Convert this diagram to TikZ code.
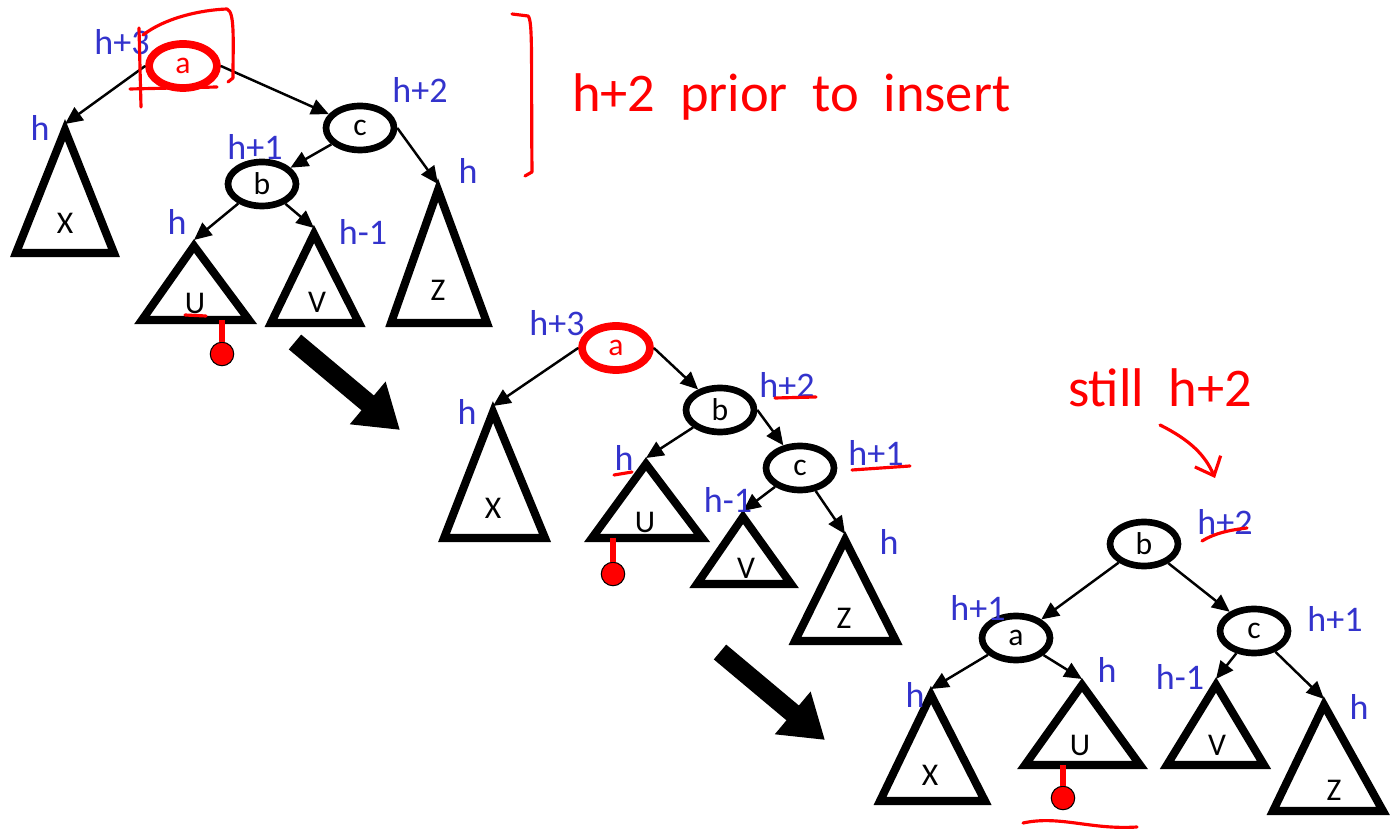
\documentclass[tikz,border=0pt]{standalone}
\usepackage{fontspec}
\setmainfont{Carlito}
\usetikzlibrary{arrows.meta,shapes.geometric}

\definecolor{hblue}{RGB}{51,51,204}

\begin{document}
\begin{tikzpicture}[x=0.02cm, y=-0.02cm,
    key/.style={ellipse, draw, line width=3.8pt, inner sep=0pt,
        minimum width=1.36cm, minimum height=0.88cm, font=\fontsize{18}{18}\selectfont},
    newkey/.style={key, draw=red, text=red, line width=4.4pt},
    tri/.style={line width=4.6pt, line join=miter},
    sub/.style={font=\fontsize{18}{18}\selectfont},
    ht/.style={text=hblue, font=\fontsize{20.5}{20.5}\selectfont},
    link/.style={-{Triangle[length=10pt,width=9pt]}, line width=1.4pt},
    bigarrow/.style={line width=11pt, -{Triangle[length=24pt,width=30pt]}},
    pen/.style={red, line width=1.8pt, line cap=round, line join=round},
    note/.style={text=red, font=\fontsize{31}{31}\selectfont},
    ball/.style={circle, draw, line width=0.6pt, fill=red, minimum size=0.47cm, inner sep=0pt}]

    \useasboundingbox (0,0) rectangle (1396,830);

    % before the rotation
    \node[newkey] (a1) at (183,66) {a};
    \node[key] (c1) at (360,128) {c};
    \node[key] (b1) at (262,184) {b};

    \draw[tri] (65,130) coordinate (X1) -- (16,253) -- (114,253) -- cycle;
    \draw[tri] (194,246) coordinate (U1) -- (142,320) -- (249,320) -- cycle;
    \draw[tri] (314,234) coordinate (V1) -- (271,323) -- (359,323) -- cycle;
    \draw[tri] (438,190) coordinate (Z1) -- (391,323) -- (487,323) -- cycle;
    \node[sub] (x1) at (65,223) {X};
    \node[sub] (u1) at (195,303) {U};
    \node[sub] (v1) at (317,302) {V};
    \node[sub] (z1) at (438,290) {Z};

    \draw[link] (a1.west) -- ([shift={(0,-6)}]X1);
    \draw[link] (a1.east) -- (c1);
    \draw[link] (c1) -- (b1);
    \draw[link] (c1.east) -- ([shift={(0,-6)}]Z1);
    \draw[link] (b1) -- ([shift={(0,-6)}]U1);
    \draw[link] (b1) -- ([shift={(0,-6)}]V1);

    \node[ht] (ha1) at (122,42) {h+3};
    \node[ht] (hx1) at (40,128) {h};
    \node[ht] (hc1) at (420,90) {h+2};
    \node[ht] (hb1) at (255,147) {h+1};
    \node[ht] (hz1) at (468,171) {h};
    \node[ht] (hu1) at (177,222) {h};
    \node[ht] (hv1) at (363,232) {h-1};

    \coordinate (s1) at (222,320);
    \node[ball] (o1) at (222,354) {};
    \draw[red, line width=3pt] (s1) -- (o1);

    % ink on the first tree
    \draw[pen] (139,28) -- (141,107);
    \draw[pen] (143,35) .. controls (165,18) and (200,10) .. (227,9)
        .. controls (235,12) and (233,40) .. (233,78) -- (228,82);
    \draw[pen] (130,89) -- (217,87);
    \draw[pen] (185,315) -- (206,316);
    \draw[pen] (512,14) -- (528,16) .. controls (533,20) and (531,60) .. (532,172) -- (525,176);
    \node[note, anchor=west] (n1) at (566,97) {h+2 \ prior \ to \ insert};

    \draw[bigarrow] (295,342) -- (400,430);

    % after inserting into U
    \node[newkey] (a2) at (616,348) {a};
    \node[key] (b2) at (720,410) {b};
    \node[key] (c2) at (800,468) {c};

    \draw[tri] (493,412) coordinate (X2) -- (444,538) -- (545,538) -- cycle;
    \draw[tri] (646,464) coordinate (U2) -- (592,538) -- (702,538) -- cycle;
    \draw[tri] (743,517) coordinate (V2) -- (697,584) -- (791,584) -- cycle;
    \draw[tri] (845,540) coordinate (Z2) -- (795,641) -- (896,641) -- cycle;
    \node[sub] (x2) at (493,508) {X};
    \node[sub] (u2) at (645,522) {U};
    \node[sub] (v2) at (746,568) {V};
    \node[sub] (z2) at (844,618) {Z};

    \draw[link] (a2.west) -- ([shift={(0,-6)}]X2);
    \draw[link] (a2.east) -- (b2);
    \draw[link] (b2) -- ([shift={(0,-6)}]U2);
    \draw[link] (b2.east) -- (c2);
    \draw[link] (c2) -- ([shift={(0,-6)}]V2);
    \draw[link] (c2) -- ([shift={(0,-6)}]Z2);

    \node[ht] (ha2) at (557,323) {h+3};
    \node[ht] (hx2) at (467,412) {h};
    \node[ht] (hb2) at (787,385) {h+2};
    \node[ht] (hu2) at (624,458) {h};
    \node[ht] (hc2) at (876,453) {h+1};
    \node[ht] (hv2) at (728,500) {h-1};
    \node[ht] (hz2) at (889,542) {h};

    \coordinate (s2) at (613,538);
    \node[ball] (o2) at (613,574) {};
    \draw[red, line width=3pt] (s2) -- (o2);

    \draw[pen] (775,398) -- (816,397);
    \draw[pen] (614,475) -- (632,472);
    \draw[pen] (852,470) -- (910,466);

    \node[note] (n2) at (1160,388) {still \ h+2};
    \coordinate (t2) at (1215,478);
    \draw[pen, -{Straight Barb[length=9pt,width=16pt]}] (1160,425) .. controls (1190,440) and (1205,455) .. (t2);

    \draw[bigarrow] (720,652) -- (825,740);

    % after the double rotation
    \node[key] (b3) at (1144,544) {b};
    \node[key] (a3) at (1016,638) {a};
    \node[key] (c3) at (1254,631) {c};

    \draw[tri] (931,695) coordinate (X3) -- (880,801) -- (985,801) -- cycle;
    \draw[tri] (1082,685) coordinate (U3) -- (1025,765) -- (1140,765) -- cycle;
    \draw[tri] (1216,685) coordinate (V3) -- (1167,765) -- (1264,765) -- cycle;
    \draw[tri] (1324,705) coordinate (Z3) -- (1273,811) -- (1383,811) -- cycle;
    \node[sub] (x3) at (930,775) {X};
    \node[sub] (u3) at (1080,745) {U};
    \node[sub] (v3) at (1217,745) {V};
    \node[sub] (z3) at (1334,790) {Z};

    \draw[link] (b3) -- (a3);
    \draw[link] (b3) -- (c3);
    \draw[link] (a3) -- ([shift={(0,-6)}]X3);
    \draw[link] (a3) -- ([shift={(0,-6)}]U3);
    \draw[link] (c3) -- ([shift={(0,-6)}]V3);
    \draw[link] (c3) -- ([shift={(0,-6)}]Z3);

    \node[ht] (hb3) at (1225,522) {h+2};
    \node[ht] (ha3) at (978,608) {h+1};
    \node[ht] (hc3) at (1335,619) {h+1};
    \node[ht] (hx3) at (915,695) {h};
    \node[ht] (hu3) at (1107,670) {h};
    \node[ht] (hv3) at (1180,677) {h-1};
    \node[ht] (hz3) at (1359,707) {h};

    \coordinate (s3) at (1063,765);
    \node[ball] (o3) at (1063,798) {};
    \draw[red, line width=3pt] (s3) -- (o3);

    \draw[pen] (1202,541) .. controls (1215,533) and (1230,530) .. (1247,528);
    \draw[pen] (1023,823) .. controls (1060,815) and (1090,830) .. (1137,827);
\end{tikzpicture}
\end{document}
